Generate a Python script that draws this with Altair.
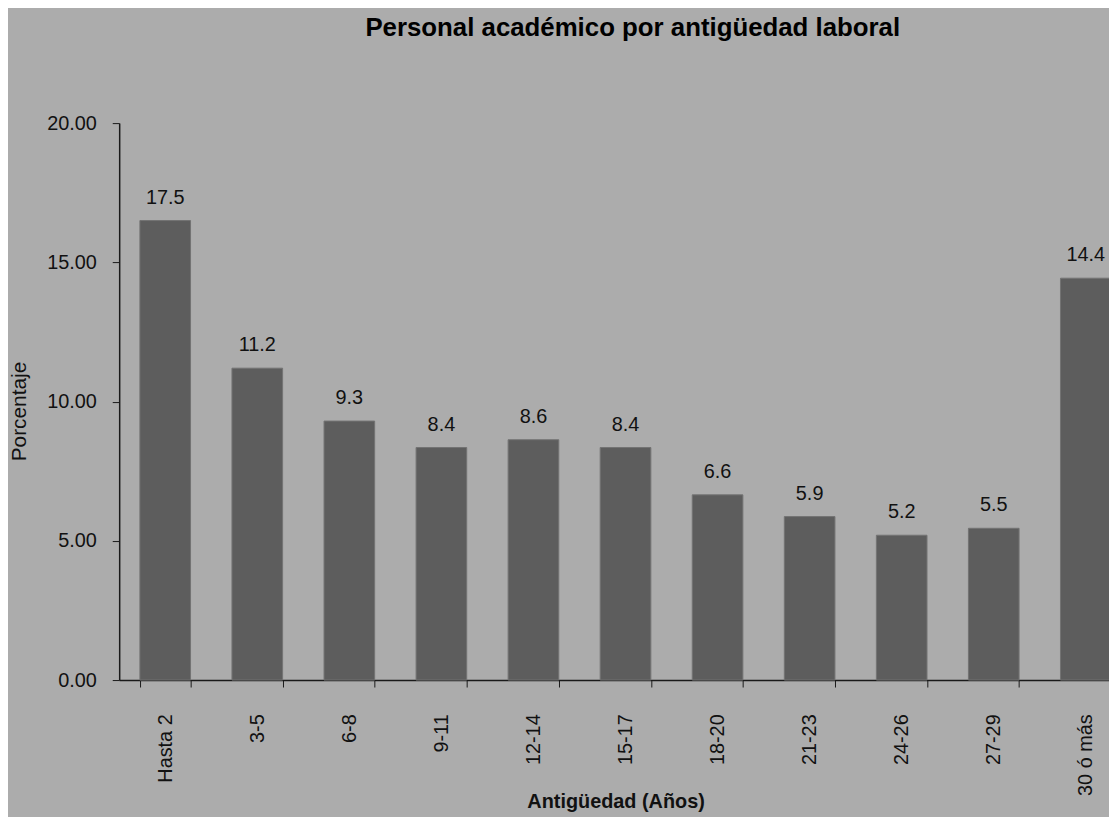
import altair as alt
import pandas as pd

categories = ["Hasta 2", "3-5", "6-8", "9-11", "12-14", "15-17", "18-20",
              "21-23", "24-26", "27-29", "30 ó más"]
values = [16.5, 11.2, 9.3, 8.35, 8.63, 8.35, 6.65, 5.87, 5.2, 5.45, 14.43]
labels = ["17.5", "11.2", "9.3", "8.4", "8.6", "8.4", "6.6", "5.9", "5.2", "5.5", "14.4"]
y_ticks = [0, 5, 10, 15, 20]

df = pd.DataFrame({"cat": categories, "val": values, "lab": labels})

FONT = "Liberation Sans"
BG = "#acacac"

x = alt.X(
    "cat:N",
    sort=categories,
    title="Antigüedad (Años)",
    scale=alt.Scale(range=[0, 1020], paddingInner=0.45, paddingOuter=0.225),
    axis=alt.Axis(
        labelAngle=-90,
        labelAlign="right",
        labelBaseline="middle",
        labelFontSize=20,
        labelFont=FONT,
        labelColor="#111111",
        labelPadding=27,
        tickBand="extent",
        tickSize=7,
        tickColor="#1a1a1a",
        domainColor="#1a1a1a",
        domainWidth=1.5,
        titleFont=FONT,
        titleFontSize=20,
        titleFontWeight="bold",
        titleColor="#111111",
        titleX=500,
        titleY=128,
        titleAlign="center",
        titleBaseline="alphabetic",
    ),
)

y = alt.Y(
    "val:Q",
    title="Porcentaje",
    scale=alt.Scale(domain=[0, 20], nice=False, zero=True),
    axis=alt.Axis(
        values=y_ticks,
        format=".2f",
        grid=False,
        labelFontSize=20,
        labelFont=FONT,
        labelColor="#111111",
        labelPadding=16,
        tickSize=7,
        tickColor="#1a1a1a",
        domainColor="#1a1a1a",
        domainWidth=1.5,
        titleFont=FONT,
        titleFontSize=21,
        titleFontWeight="normal",
        titleColor="#111111",
        titleAngle=270,
        titleX=-100,
        titleY=290,
        titleAlign="center",
        titleBaseline="middle",
    ),
)

bars = alt.Chart(df).mark_bar(
    color="#5d5d5d", stroke="#737373", strokeWidth=1
).encode(x=x, y=y)

text = alt.Chart(df).mark_text(
    dy=-17, baseline="alphabetic", align="center", fontSize=20, font=FONT, color="#111111"
).encode(x=alt.X("cat:N", sort=categories), y=alt.Y("val:Q"), text="lab:N")

chart = (
    alt.layer(bars, text)
    .properties(
        width=997,
        height=561,
        title=alt.Title(
            "Personal académico por antigüedad laboral",
            font=FONT,
            fontSize=26,
            fontWeight="bold",
            color="#000000",
            anchor="start",
            frame="group",
            dx=248,
            offset=52,
            baseline="alphabetic",
        ),
        autosize=alt.AutoSizeParams(type="none"),
        padding={"left": 112, "top": 113, "right": 0, "bottom": 135},
        background=BG,
    )
    .configure_view(stroke=None)
)

chart.save("out.html", embed_options={"renderer": "svg", "actions": False})
